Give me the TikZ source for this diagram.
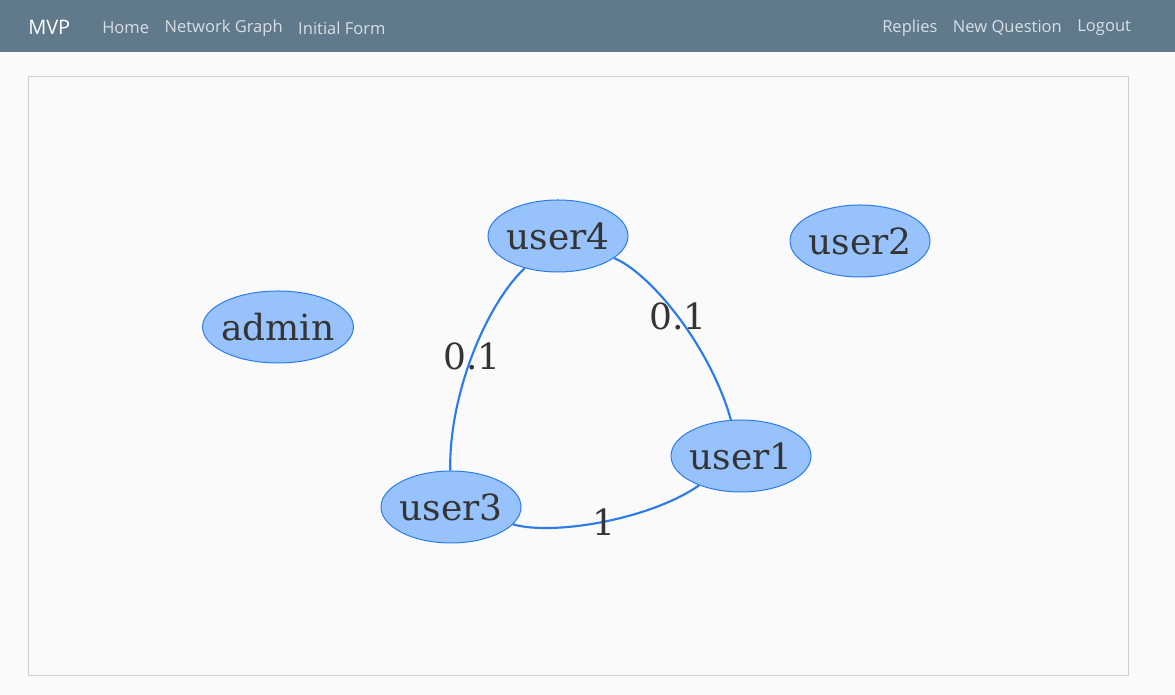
\documentclass[tikz,border=0pt]{standalone}
\usepackage{fontspec}
\setmainfont{Open Sans}
\newfontfamily\graphfont{DejaVu Serif}
\usetikzlibrary{shapes.geometric,positioning}
\definecolor{navbar}{HTML}{607A8C}
\definecolor{navlink}{HTML}{D8DFE4}
\definecolor{pagebg}{HTML}{FAFAFA}
\definecolor{framegray}{HTML}{CFCFCF}
\definecolor{nodefill}{HTML}{97C2FC}
\definecolor{nodeedge}{HTML}{2B7CE9}
\definecolor{labelgray}{HTML}{343434}
\tikzset{
	user/.style={ellipse, draw=nodeedge, fill=nodefill, line width=0.75pt, inner xsep=-2.5pt, inner ysep=0pt,
		minimum width=105pt, minimum height=54pt, text=labelgray,
		font=\graphfont\fontsize{27}{27}\selectfont},
	link/.style={draw=nodeedge, line width=1.6pt},
	weight/.style={text=labelgray, inner sep=0pt, font=\graphfont\fontsize{27}{27}\selectfont},
	navitem/.style={anchor=west, inner sep=0pt, text=navlink, font=\fontsize{12.4}{14}\selectfont},
}

\begin{document}
\begin{tikzpicture}[x=0.75pt, y=0.75pt, node distance=11.25pt]
	\useasboundingbox (0,0) rectangle (1175,695);
	\fill[pagebg] (0,0) rectangle (1175,695);
	\fill[navbar] (0,643) rectangle (1175,695);
	\draw[framegray, line width=0.75pt] (28,19) rectangle (1128,618);

	\node[navitem, text=white, font=\fontsize{15}{18}\selectfont] (mvp) at (28,668) {MVP};
	\node[navitem] (home) at (102,667) {Home};
	\node[navitem, right=of home] (graph) {Network Graph};
	\node[navitem, right=of graph] (form) {Initial Form};
	\node[navitem] (replies) at (882,667) {Replies};
	\node[navitem, right=of replies] (question) {New Question};
	\node[navitem, right=of question] (logout) {Logout};

	\node[user] (user4) at (558,459) {user4};
	\node[user] (user2) at (860,454) {user2};
	\node[user] (admin) at (278,368) {admin};
	\node[user] (user1) at (741,239) {user1};
	\node[user] (user3) at (451,188) {user3};

	\draw[link] (user4) .. controls (484.3,388) and (448.7,297.7) .. node[weight] {0.1} (user3);
	\draw[link] (user4) .. controls (649,423) and (710,349.7) .. node[weight] {0.1} (user1);
	\draw[link] (user3) .. controls (554.3,159) and (651,176) .. node[weight] {1} (user1);
\end{tikzpicture}
\end{document}
